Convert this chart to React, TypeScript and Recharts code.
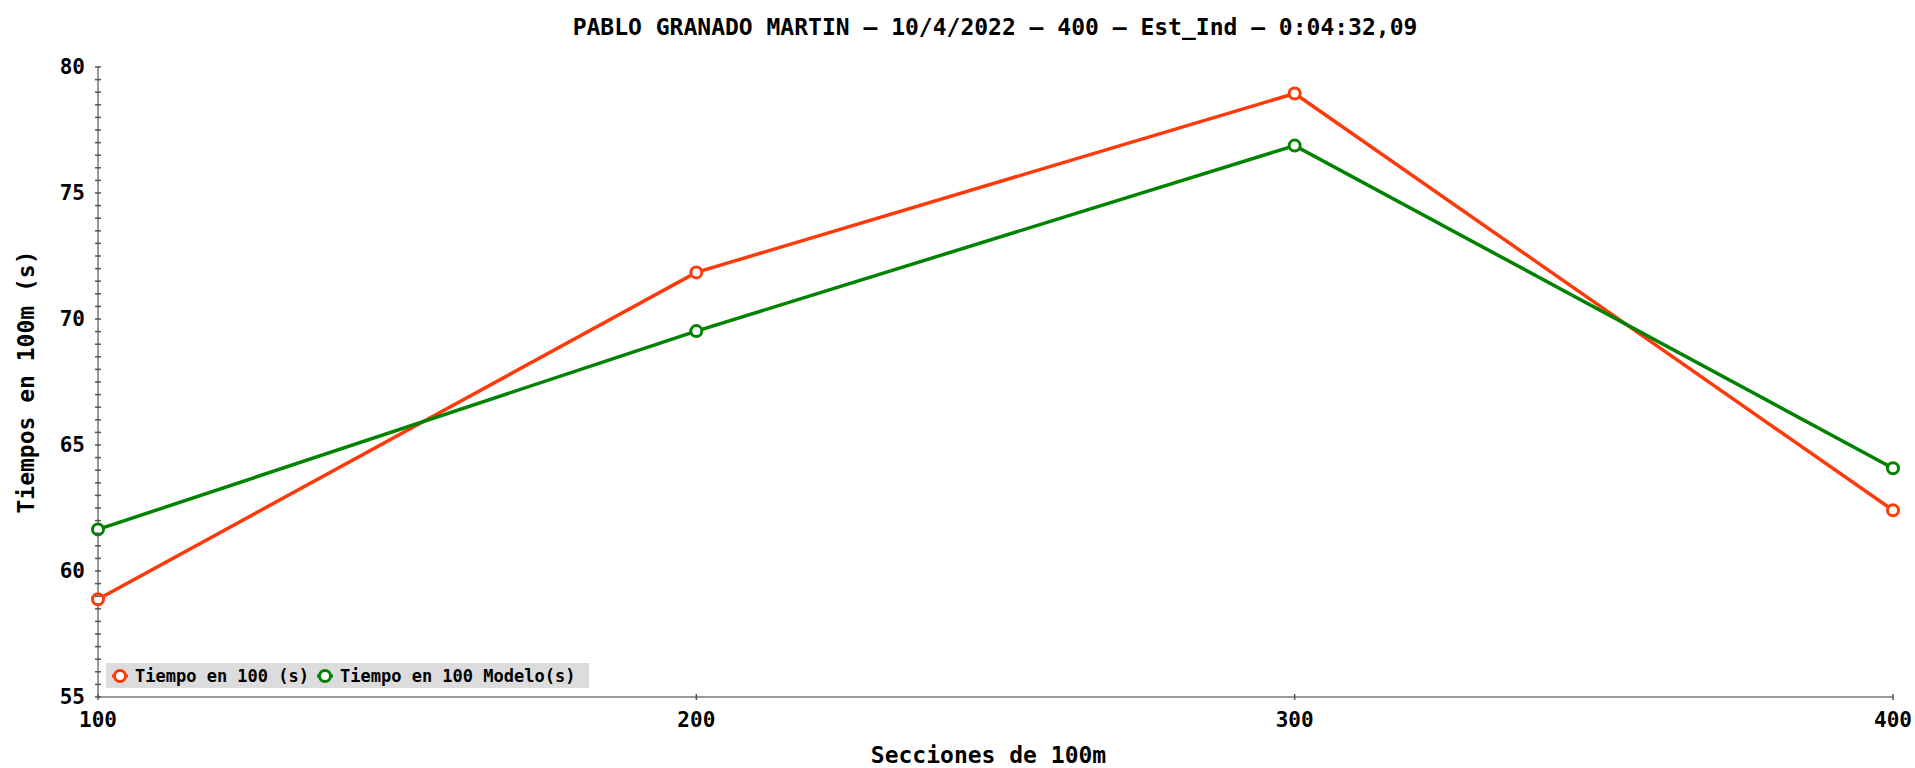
import { LineChart, Line, XAxis, YAxis, Legend } from "recharts";

const sections = [100, 200, 300, 400];
const tiempo = [58.88, 71.85, 78.95, 62.41];
const modelo = [61.65, 69.52, 76.88, 64.08];
const yLabels = [55, 60, 65, 70, 75, 80];
const xLabels = [100, 200, 300, 400];

const title = "PABLO GRANADO MARTIN – 10/4/2022 – 400 – Est_Ind – 0:04:32,09";
const serieNames = ["Tiempo en 100 (s)", "Tiempo en 100 Modelo(s)"];
const colors = ["#ff3a0a", "#008300"];

const data = sections.map((s, i) => ({ s, t: tiempo[i], m: modelo[i] }));

// minor ticks every 0.5
const yTicks: number[] = [];
for (let v = 55; v <= 80; v += 0.5) yTicks.push(v);

const FONT = "'DejaVu Sans Mono', monospace";

function YTick({ x, y, payload }: any) {
    const major = yLabels.includes(payload.value);
    return (
        <g>
            <line x1={x - 3} x2={x + 3} y1={y} y2={y} stroke="#555" strokeWidth={1.5} />
            {major && (
                <text x={x - 13} y={y} dy="0.35em" textAnchor="end" fontFamily={FONT} fontWeight="bold" fontSize={21} fill="#000">
                    {payload.value}
                </text>
            )}
        </g>
    );
}

function XTick({ x, y, payload }: any) {
    return (
        <g>
            <line x1={x} x2={x} y1={y - 3} y2={y + 3} stroke="#555" strokeWidth={1.5} />
            <text x={x} y={y + 23} dy="0.35em" textAnchor="middle" fontFamily={FONT} fontWeight="bold" fontSize={21} fill="#000">
                {payload.value}
            </text>
        </g>
    );
}

function Dot(props: any) {
    const { cx, cy, stroke } = props;
    return <circle cx={cx} cy={cy} r={5.5} fill="#fff" stroke={stroke} strokeWidth={3} />;
}

function LegendBox() {
    return (
        <div
            style={{
                display: "flex",
                alignItems: "center",
                background: "#dcdcdc",
                height: 25,
                width: 483,
                boxSizing: "border-box",
                paddingLeft: 5,
                fontFamily: FONT,
                fontWeight: "bold",
                fontSize: 17,
                color: "#000",
                whiteSpace: "nowrap",
            }}
        >
            {serieNames.map((n, i) => (
                <div key={n} style={{ display: "flex", alignItems: "center", marginRight: 7 }}>
                    <svg width={20} height={18}>
                        <line x1={1} x2={17} y1={9} y2={9} stroke={colors[i]} strokeWidth={3} />
                        <circle cx={9} cy={9} r={5.5} fill="#fff" stroke={colors[i]} strokeWidth={3} />
                    </svg>
                    <span style={{ marginLeft: 4 }}>{n}</span>
                </div>
            ))}
        </div>
    );
}

export default function App() {
    return (
        <div style={{ position: "absolute", left: 0, top: 0, width: 1915, height: 768, background: "#fff" }}>
            <div
                style={{
                    position: "absolute",
                    left: 0,
                    width: 1990,
                    top: 14,
                    textAlign: "center",
                    fontFamily: FONT,
                    fontWeight: "bold",
                    fontSize: 23,
                    color: "#000",
                }}
            >
                {title}
            </div>
            <LineChart width={1915} height={768} data={data} margin={{ top: 67, right: 22, bottom: 0, left: 0 }}>
                <XAxis
                    dataKey="s"
                    type="number"
                    domain={[100, 400]}
                    ticks={xLabels}
                    height={71}
                    tickSize={0}
                    tickMargin={0}
                    stroke="#999"
                    strokeWidth={2}
                    tick={<XTick />}
                    label={{
                        value: "Secciones de 100m",
                        position: "insideBottom",
                        offset: 5,
                        dx: -7,
                        fontFamily: FONT,
                        fontWeight: "bold",
                        fontSize: 23,
                        fill: "#000",
                    }}
                />
                <YAxis
                    type="number"
                    domain={[55, 80]}
                    ticks={yTicks}
                    interval={0}
                    width={98}
                    tickSize={0}
                    tickMargin={0}
                    stroke="#999"
                    strokeWidth={2}
                    tick={<YTick />}
                    label={{
                        value: "Tiempos en 100m (s)",
                        angle: -90,
                        position: "insideLeft",
                        offset: 26,
                        style: { textAnchor: "middle" },
                        fontFamily: FONT,
                        fontWeight: "bold",
                        fontSize: 23,
                        fill: "#000",
                    }}
                />
                <Legend
                    content={<LegendBox />}
                    layout="horizontal"
                    verticalAlign="middle"
                    wrapperStyle={{ left: 106, top: 663, width: 483, height: 25 }}
                />
                <Line
                    dataKey="t"
                    name={serieNames[0]}
                    stroke={colors[0]}
                    strokeWidth={3.5}
                    dot={<Dot />}
                    activeDot={false}
                    isAnimationActive={false}
                />
                <Line
                    dataKey="m"
                    name={serieNames[1]}
                    stroke={colors[1]}
                    strokeWidth={3.5}
                    dot={<Dot />}
                    activeDot={false}
                    isAnimationActive={false}
                />
            </LineChart>
        </div>
    );
}
